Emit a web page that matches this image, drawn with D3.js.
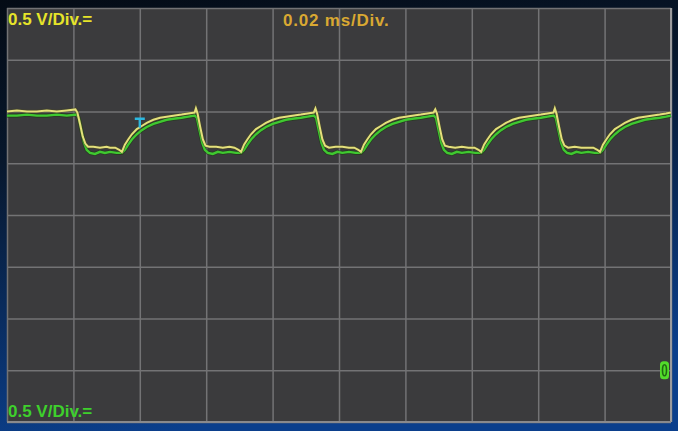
<!DOCTYPE html>
<html><head><meta charset="utf-8">
<script src="https://cdn.jsdelivr.net/npm/d3@7"></script>
<style>html,body{margin:0;padding:0;background:#06101c;}svg{display:block;}</style>
</head><body>
<svg id="c" width="678" height="431"></svg>
<script>
// Time in microseconds (0.02 ms/Div = 20 µs/Div), voltage in volts (0.5 V/Div)
const timeDomain = [0, 200];
const voltDomain = [-0.5, 3.5];
const timeTicks = [0, 20, 40, 60, 80, 100, 120, 140, 160, 180, 200];
const voltTicks = [-0.5, 0, 0.5, 1, 1.5, 2, 2.5, 3, 3.5];
const labelCh1 = "0.5 V/Div.=";
const labelCh2 = "0.5 V/Div.=";
const labelTime = "0.02 ms/Div.";
const triggerTime = 40;
const triggerLevel = 2.43;
const groundLevel = 0;

const ch1 = [[0,2.50],[3,2.51],[6,2.50],[9,2.50],[12,2.51],[15,2.50],[18,2.51],[20.6,2.52],[21.2,2.49],[22.0,2.38],[22.8,2.26],[23.6,2.19],[24.4,2.16],[26,2.16],[28,2.15],[30,2.16],[31,2.15],[32.6,2.15],[33.8,2.13],[34.6,2.11],
[35.5,2.18],[36.5,2.23],[37.6,2.28],[39.1,2.33],[40.6,2.36],[42.1,2.39],[44.1,2.42],[46.1,2.44],[48.1,2.45],[50.1,2.46],[52.6,2.47],[54.6,2.48],[56.5,2.49],[56.9,2.53],[57.4,2.48],[58.2,2.35],[59.0,2.23],[59.8,2.17],[61,2.16],[63,2.16],[65,2.15],[67,2.16],[68.5,2.15],[69.7,2.13],[70.5,2.11],
[71.4,2.18],[72.4,2.23],[73.5,2.28],[75,2.33],[76.5,2.36],[78,2.39],[80,2.42],[82,2.44],[84,2.45],[86,2.46],[88.5,2.47],[90.5,2.48],[92.4,2.49],[92.9,2.53],[93.4,2.48],[94.2,2.35],[95,2.23],[95.8,2.17],[97,2.15],[99,2.16],[101,2.16],[103,2.15],[104.6,2.15],[105.8,2.13],[106.6,2.11],
[107.5,2.18],[108.5,2.23],[109.6,2.28],[111.1,2.33],[112.6,2.36],[114.1,2.39],[116.1,2.42],[118.1,2.44],[120.1,2.45],[122.1,2.46],[124.6,2.47],[126.6,2.48],[128.5,2.49],[129.0,2.52],[129.5,2.48],[130.3,2.35],[131.1,2.23],[131.9,2.17],[133,2.16],[135,2.15],[137,2.16],[139,2.15],[140.8,2.15],[142,2.13],[142.8,2.11],
[143.7,2.18],[144.7,2.23],[145.8,2.28],[147.3,2.33],[148.8,2.36],[150.3,2.39],[152.3,2.42],[154.3,2.44],[156.3,2.45],[158.3,2.46],[160.8,2.47],[162.8,2.48],[164.6,2.49],[165.0,2.53],[165.5,2.48],[166.3,2.35],[167.1,2.23],[167.9,2.17],[169,2.15],[171,2.16],[173,2.15],[175,2.15],[176.6,2.15],[177.8,2.13],[178.6,2.11],
[179.5,2.18],[180.5,2.23],[181.6,2.28],[183.1,2.33],[184.6,2.36],[186.1,2.39],[188.1,2.42],[190.1,2.44],[192.1,2.45],[194.1,2.46],[196.6,2.47],[198.5,2.48],[200,2.49]];

const ch2 = [[0,2.46],[3,2.46],[6,2.47],[9,2.46],[12,2.46],[15,2.47],[18,2.46],[21,2.47],[21.6,2.44],[22.4,2.32],[23.2,2.20],[24,2.13],[25,2.10],[26.5,2.09],[28,2.11],[29.5,2.10],[31,2.11],[33,2.10],[34.6,2.10],
[35.5,2.13],[36.5,2.18],[37.6,2.23],[39.1,2.28],[40.6,2.32],[42.1,2.35],[44.1,2.38],[46.1,2.40],[48.1,2.42],[50.1,2.43],[52.6,2.44],[54.6,2.45],[56.5,2.46],[57.2,2.44],[58,2.32],[58.8,2.20],[59.6,2.13],[60.6,2.10],[62,2.09],[63.5,2.11],[65,2.10],[67,2.11],[69,2.10],[70.5,2.10],
[71.4,2.13],[72.4,2.18],[73.5,2.23],[75,2.28],[76.5,2.32],[78,2.35],[80,2.38],[82,2.40],[84,2.42],[86,2.43],[88.5,2.44],[90.5,2.45],[92.4,2.46],[93.1,2.44],[93.9,2.32],[94.7,2.20],[95.5,2.13],[96.5,2.10],[98,2.09],[99.5,2.11],[101,2.10],[103,2.11],[105,2.10],[106.6,2.10],
[107.5,2.13],[108.5,2.18],[109.6,2.23],[111.1,2.28],[112.6,2.32],[114.1,2.35],[116.1,2.38],[118.1,2.40],[120.1,2.42],[122.1,2.43],[124.6,2.44],[126.6,2.45],[128.5,2.46],[129.2,2.44],[130,2.32],[130.8,2.20],[131.6,2.13],[132.6,2.10],[134,2.09],[135.5,2.11],[137,2.10],[139,2.11],[141,2.10],[142.8,2.10],
[143.7,2.13],[144.7,2.18],[145.8,2.23],[147.3,2.28],[148.8,2.32],[150.3,2.35],[152.3,2.38],[154.3,2.40],[156.3,2.42],[158.3,2.43],[160.8,2.44],[162.8,2.45],[164.6,2.46],[165.3,2.44],[166.1,2.32],[166.9,2.20],[167.7,2.13],[168.7,2.10],[170,2.09],[171.5,2.11],[173,2.10],[175,2.11],[177,2.10],[178.6,2.10],
[179.5,2.13],[180.5,2.18],[181.6,2.23],[183.1,2.28],[184.6,2.32],[186.1,2.35],[188.1,2.38],[190.1,2.40],[192.1,2.42],[194.1,2.43],[196.6,2.44],[198.5,2.45],[200,2.46]];

const W = 678, H = 431;
const m = {left: 7, right: 7, top: 8, bottom: 9};
const svg = d3.select("#c");

const defs = svg.append("defs");
const g = defs.append("linearGradient").attr("id","bg").attr("x1","0").attr("y1","0").attr("x2","0.25").attr("y2","1");
g.append("stop").attr("offset","0").attr("stop-color","#040b15");
g.append("stop").attr("offset","0.35").attr("stop-color","#07172c");
g.append("stop").attr("offset","1").attr("stop-color","#0b3f8c");
svg.append("rect").attr("width",W).attr("height",H).attr("fill","url(#bg)");

const x = d3.scaleLinear().domain(timeDomain).range([m.left, W - m.right]);
const y = d3.scaleLinear().domain(voltDomain).range([H - m.bottom, m.top]);

svg.append("rect").attr("x", x(timeDomain[0])).attr("y", y(voltDomain[1]))
  .attr("width", x(timeDomain[1]) - x(timeDomain[0])).attr("height", y(voltDomain[0]) - y(voltDomain[1]))
  .attr("fill", "#3b3b3d");

const gx = svg.append("g").attr("transform", `translate(0,${y(voltDomain[0])})`)
  .call(d3.axisBottom(x).tickValues(timeTicks).tickSize(-(y(voltDomain[0]) - y(voltDomain[1]))).tickFormat(""));
const gy = svg.append("g").attr("transform", `translate(${x(timeDomain[0])},0)`)
  .call(d3.axisLeft(y).tickValues(voltTicks).tickSize(-(x(timeDomain[1]) - x(timeDomain[0]))).tickFormat(""));
[gx, gy].forEach(a => {
  a.select(".domain").remove();
  a.selectAll(".tick line").attr("stroke", "#737375").attr("stroke-width", 1.5);
});
svg.append("line").attr("x1", x(200)).attr("x2", x(200)).attr("y1", y(3.5)).attr("y2", y(-0.5))
  .attr("stroke", "#9a9a9c").attr("stroke-width", 2);
svg.append("line").attr("x1", x(0)).attr("x2", x(200)).attr("y1", y(-0.5)).attr("y2", y(-0.5))
  .attr("stroke", "#8a8a8c").attr("stroke-width", 2);

const line = d3.line().x(d => x(d[0])).y(d => y(d[1]));
svg.append("path").datum(ch2).attr("d", line).attr("fill","none").attr("stroke","#1d3a12").attr("stroke-width",4).attr("stroke-opacity",0.6);
svg.append("path").datum(ch2).attr("d", line).attr("fill","none").attr("stroke","#3fc830").attr("stroke-width",2.4);
svg.append("path").datum(ch1).attr("d", line).attr("fill","none").attr("stroke","#4a4a22").attr("stroke-width",3.4).attr("stroke-opacity",0.6);
svg.append("path").datum(ch1).attr("d", line).attr("fill","none").attr("stroke","#e4e07c").attr("stroke-width",2);

// trigger marker
const tx = x(triggerTime), ty = y(triggerLevel);
svg.append("path").attr("d", `M${tx-5},${ty} H${tx+5} M${tx},${ty} V${ty+9}`)
  .attr("stroke", "#2cb8e0").attr("stroke-width", 2.4).attr("fill", "none");

// ground marker
const gyPos = y(groundLevel);
svg.append("rect").attr("x", x(200) - 11).attr("y", gyPos - 9).attr("width", 9).attr("height", 18).attr("rx", 3.5)
  .attr("fill", "#52dc2a");
svg.append("ellipse").attr("cx", x(200) - 6.5).attr("cy", gyPos).attr("rx", 2).attr("ry", 5.5)
  .attr("fill", "none").attr("stroke", "#1f6a12").attr("stroke-width", 1.6);

const font = "Liberation Sans, Arial, sans-serif";
svg.append("text").attr("x", 8).attr("y", 25).attr("font-family", font).attr("font-weight","bold")
  .attr("font-size", 17).attr("fill", "#e6e42a").text(labelCh1);
svg.append("text").attr("x", 283).attr("y", 26).attr("font-family", font).attr("font-weight","bold")
  .attr("font-size", 17).attr("letter-spacing", 0.8).attr("fill", "#d9a832").text(labelTime);
svg.append("text").attr("x", 8).attr("y", 417).attr("font-family", font).attr("font-weight","bold")
  .attr("font-size", 17).attr("fill", "#3ed02c").text(labelCh2);
</script>
</body></html>
